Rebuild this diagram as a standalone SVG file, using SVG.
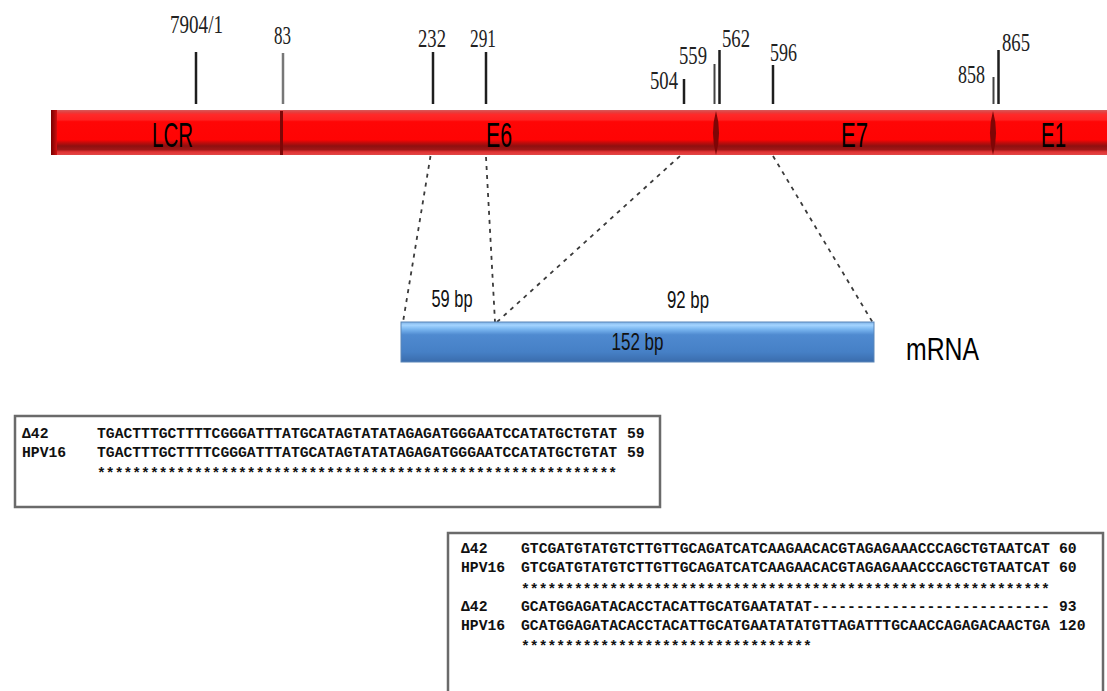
<svg xmlns="http://www.w3.org/2000/svg" width="1107" height="691" viewBox="0 0 1107 691">
<defs>
<linearGradient id="red" x1="0" y1="0" x2="0" y2="1">
<stop offset="0" stop-color="#d85a5a"/>
<stop offset="0.06" stop-color="#e83a3a"/>
<stop offset="0.1" stop-color="#ff2a2a"/>
<stop offset="0.22" stop-color="#ff2020"/>
<stop offset="0.26" stop-color="#ff0606"/>
<stop offset="0.66" stop-color="#ff0404"/>
<stop offset="0.72" stop-color="#c80a0a"/>
<stop offset="0.8" stop-color="#8e1010"/>
<stop offset="0.88" stop-color="#a01616"/>
<stop offset="0.93" stop-color="#e03434"/>
<stop offset="1" stop-color="#e24646"/>
</linearGradient>
<linearGradient id="capred" x1="0" y1="0" x2="1" y2="0">
<stop offset="0" stop-color="#7a0000"/>
<stop offset="0.5" stop-color="#a00808"/>
<stop offset="1" stop-color="#d01010"/>
</linearGradient>
<linearGradient id="blue" x1="0" y1="0" x2="0" y2="1">
<stop offset="0" stop-color="#7fb2e6"/>
<stop offset="0.08" stop-color="#a4d4ff"/>
<stop offset="0.18" stop-color="#7ab6f0"/>
<stop offset="0.32" stop-color="#4f8ad0"/>
<stop offset="0.75" stop-color="#4680c6"/>
<stop offset="1" stop-color="#3a6cac"/>
</linearGradient>
<style>
.seg{fill:url(#red);}
.segtxt{font-family:"Liberation Sans",Arial,sans-serif;font-size:35px;fill:#000;text-anchor:middle;}
.div{fill:#7e0606;}
.tick{stroke:#1e1e1e;stroke-width:2.5;}
.tick2{stroke:#444;stroke-width:2;}
.tl{font-family:"Liberation Serif","Times New Roman",serif;font-size:25px;fill:#222;text-anchor:middle;}
.bp{font-family:"Liberation Sans",Arial,sans-serif;font-size:24px;fill:#111;text-anchor:middle;}
.dash{stroke:#3a3a3a;stroke-width:1.8;stroke-dasharray:4 5;fill:none;}
.box{fill:#fff;stroke:#6a6a6a;stroke-width:2.5;}
.seq{font-family:"Liberation Mono","Courier New",monospace;font-weight:bold;font-size:14.7px;fill:#111;}
</style>
</defs>
<rect width="1107" height="691" fill="#fff"/>

<g id="ticks">
<g id="t7904"><line class="tick" x1="196" y1="52" x2="196" y2="104"/><text class="tl" x="196.5" y="33" textLength="53" lengthAdjust="spacingAndGlyphs">7904/1</text></g>
<g id="t83"><line x1="283" y1="53" x2="283" y2="104" stroke="#777" stroke-width="2.5"/><text class="tl" x="282.5" y="44" textLength="17" lengthAdjust="spacingAndGlyphs">83</text></g>
<g id="t232"><line class="tick" x1="433" y1="52" x2="433" y2="104"/><text class="tl" x="432" y="47" textLength="28" lengthAdjust="spacingAndGlyphs">232</text></g>
<g id="t291"><line class="tick" x1="486" y1="52" x2="486" y2="104"/><text class="tl" x="483" y="47" textLength="26" lengthAdjust="spacingAndGlyphs">291</text></g>
<g id="t504"><line class="tick" x1="684" y1="79" x2="684" y2="104"/><text class="tl" x="664" y="89" textLength="28" lengthAdjust="spacingAndGlyphs">504</text></g>
<g id="t559"><line class="tick2" x1="714.5" y1="64" x2="714.5" y2="104"/><text class="tl" x="693" y="64" textLength="28" lengthAdjust="spacingAndGlyphs">559</text></g>
<g id="t562"><line class="tick" x1="719.5" y1="50" x2="719.5" y2="104"/><text class="tl" x="736" y="47" textLength="28" lengthAdjust="spacingAndGlyphs">562</text></g>
<g id="t596"><line class="tick" x1="773" y1="65" x2="773" y2="104"/><text class="tl" x="783.5" y="61" textLength="27" lengthAdjust="spacingAndGlyphs">596</text></g>
<g id="t858"><line class="tick2" x1="993.5" y1="77" x2="993.5" y2="104"/><text class="tl" x="971.5" y="83" textLength="27" lengthAdjust="spacingAndGlyphs">858</text></g>
<g id="t865"><line class="tick" x1="998.5" y1="50" x2="998.5" y2="104"/><text class="tl" x="1016" y="51" textLength="28" lengthAdjust="spacingAndGlyphs">865</text></g>
</g>

<g id="seg-LCR">
<rect class="seg" x="51" y="110" width="231" height="45"/>
<rect x="51" y="110" width="6" height="45" fill="url(#capred)"/>
<text class="segtxt" x="172.5" y="147" textLength="41" lengthAdjust="spacingAndGlyphs">LCR</text>
</g>
<g id="seg-E6">
<rect class="seg" x="281" y="110" width="436" height="45"/>
<rect class="div" x="280" y="111" width="3" height="44"/>
<text class="segtxt" x="499" y="147" textLength="26" lengthAdjust="spacingAndGlyphs">E6</text>
</g>
<g id="seg-E7">
<rect class="seg" x="716" y="110" width="278" height="45"/>
<path class="div" d="M716 111 Q722 132 716 155 Q710 132 716 111 Z"/>
<text class="segtxt" x="854.5" y="147" textLength="27" lengthAdjust="spacingAndGlyphs">E7</text>
</g>
<g id="seg-E1">
<rect class="seg" x="993" y="110" width="120" height="45"/>
<path class="div" d="M993 111 Q999 132 993 155 Q987 132 993 111 Z"/>
<text class="segtxt" x="1053.5" y="147" textLength="25" lengthAdjust="spacingAndGlyphs">E1</text>
</g>

<g id="connectors">
<line class="dash" x1="430.5" y1="156" x2="403" y2="322"/>
<line class="dash" x1="486" y1="157" x2="495" y2="322"/>
<line class="dash" x1="497" y1="322" x2="680" y2="156"/>
<line class="dash" x1="773" y1="156" x2="873" y2="323"/>
</g>

<g id="mrna">
<rect x="401" y="322" width="473" height="40" fill="url(#blue)" stroke="#5a86b8" stroke-width="1"/>
<text class="bp" x="637.5" y="350" textLength="52" lengthAdjust="spacingAndGlyphs">152 bp</text>
<text class="bp" x="452" y="307" textLength="41" lengthAdjust="spacingAndGlyphs">59 bp</text>
<text class="bp" x="688" y="308" textLength="42" lengthAdjust="spacingAndGlyphs">92 bp</text>
<text x="942.5" y="360" font-family="Liberation Sans, Arial, sans-serif" font-size="31" fill="#000" text-anchor="middle" textLength="73" lengthAdjust="spacingAndGlyphs">mRNA</text>
</g>

<g id="align1">
<rect class="box" x="15" y="416" width="645" height="91"/>
<text class="seq" x="22" y="438">Δ42</text>
<text class="seq" x="97" y="438">TGACTTTGCTTTTCGGGATTTATGCATAGTATATAGAGATGGGAATCCATATGCTGTAT</text>
<text class="seq" x="627" y="438">59</text>
<text class="seq" x="22" y="457">HPV16</text>
<text class="seq" x="97" y="457">TGACTTTGCTTTTCGGGATTTATGCATAGTATATAGAGATGGGAATCCATATGCTGTAT</text>
<text class="seq" x="627" y="457">59</text>
<text class="seq" x="97" y="478">***********************************************************</text>
</g>

<g id="align2">
<rect class="box" x="448" y="533" width="655" height="170"/>
<text class="seq" x="461" y="553">Δ42</text>
<text class="seq" x="521" y="553">GTCGATGTATGTCTTGTTGCAGATCATCAAGAACACGTAGAGAAACCCAGCTGTAATCAT</text>
<text class="seq" x="1059" y="553">60</text>
<text class="seq" x="461" y="572">HPV16</text>
<text class="seq" x="521" y="572">GTCGATGTATGTCTTGTTGCAGATCATCAAGAACACGTAGAGAAACCCAGCTGTAATCAT</text>
<text class="seq" x="1059" y="572">60</text>
<text class="seq" x="521" y="594">************************************************************</text>
<text class="seq" x="461" y="611">Δ42</text>
<text class="seq" x="521" y="611">GCATGGAGATACACCTACATTGCATGAATATAT---------------------------</text>
<text class="seq" x="1059" y="611">93</text>
<text class="seq" x="461" y="630">HPV16</text>
<text class="seq" x="521" y="630">GCATGGAGATACACCTACATTGCATGAATATATGTTAGATTTGCAACCAGAGACAACTGA</text>
<text class="seq" x="1059" y="630">120</text>
<text class="seq" x="521" y="651">*********************************</text>
</g>
</svg>
